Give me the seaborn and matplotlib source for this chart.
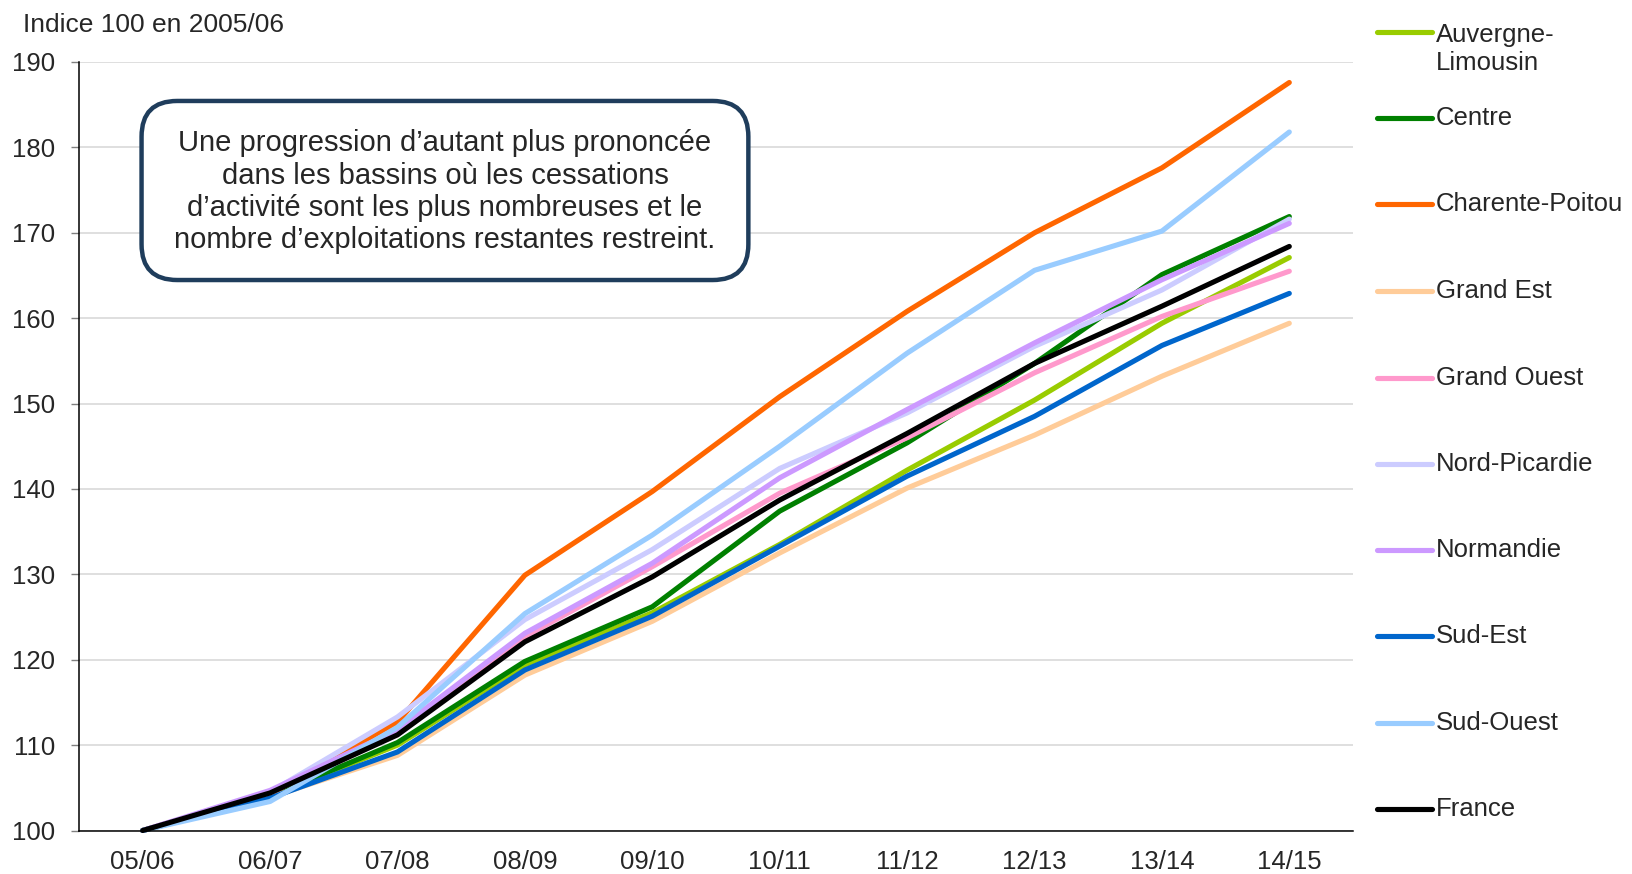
import pandas as pd
import matplotlib
matplotlib.use("Agg")
import matplotlib.pyplot as plt
from matplotlib.lines import Line2D
from matplotlib.patches import FancyBboxPatch
from matplotlib.ticker import FixedLocator
import seaborn as sns

# data
periods = ["05/06", "06/07", "07/08", "08/09", "09/10", "10/11", "11/12", "12/13", "13/14", "14/15"]
regions = ["Auvergne-Limousin", "Centre", "Charente-Poitou", "Grand Est", "Grand Ouest",
           "Nord-Picardie", "Normandie", "Sud-Est", "Sud-Ouest", "France"]
legend_labels = ["Auvergne-\nLimousin", "Centre", "Charente-Poitou", "Grand Est", "Grand Ouest",
                 "Nord-Picardie", "Normandie", "Sud-Est", "Sud-Ouest", "France"]

auvergne = [100, 104.0, 110.0, 119.4, 125.5, 133.5, 142.2, 150.4, 159.4, 167.1]
centre = [100, 104.0, 110.3, 119.8, 126.2, 137.4, 145.4, 154.7, 165.1, 171.9]
charente = [100, 104.3, 112.7, 129.9, 139.7, 150.8, 160.8, 170.0, 177.6, 187.6]
grand_est = [100, 103.9, 108.8, 118.2, 124.5, 132.5, 140.1, 146.3, 153.2, 159.4]
grand_ouest = [100, 104.4, 111.4, 122.7, 130.9, 139.5, 146.0, 153.6, 160.2, 165.5]
nord_picardie = [100, 104.5, 113.3, 124.7, 132.9, 142.4, 148.9, 156.7, 163.3, 171.6]
normandie = [100, 104.7, 111.8, 123.1, 131.3, 141.3, 149.3, 157.1, 164.5, 171.1]
sud_est = [100, 103.8, 109.2, 118.8, 125.1, 133.3, 141.5, 148.5, 156.8, 162.9]
sud_ouest = [100, 103.4, 112.1, 125.4, 134.6, 145.0, 155.9, 165.6, 170.2, 181.8]
france = [100, 104.4, 111.2, 122.1, 129.7, 138.7, 146.5, 154.7, 161.4, 168.4]

colors = ["#99CC00", "#008000", "#FF6600", "#FFCC99", "#FF99CC",
          "#CCCCFF", "#CC99FF", "#0066CC", "#99CCFF", "#000000"]

series = [auvergne, centre, charente, grand_est, grand_ouest,
          nord_picardie, normandie, sud_est, sud_ouest, france]
rows = []
for reg, vals in zip(regions, series):
    for i, v in enumerate(vals):
        rows.append({"pos": i, "region": reg, "value": v})
df = pd.DataFrame(rows)

sns.set_style("white")
plt.rcParams["font.family"] = ["Liberation Sans", "DejaVu Sans"]

fig = plt.figure(figsize=(16.32, 8.74), dpi=100)
ax = fig.add_axes([79 / 1632, 1 - 830.5 / 874, (1353 - 79) / 1632, (830.5 - 62) / 874])

palette = dict(zip(regions, colors))
sns.lineplot(data=df, x="pos", y="value", hue="region", hue_order=regions,
             palette=palette, linewidth=3.7, legend=False, ax=ax, sort=False)
for ln in ax.get_lines():
    ln.set_solid_capstyle("round")
    ln.set_solid_joinstyle("round")
    ln.set_clip_on(False)

ax.set_xlim(-0.5, 9.5)
ax.set_ylim(100, 190)
ax.set_yticks(range(100, 191, 10))
ax.set_xticks(range(len(periods)))
ax.set_xticklabels(periods)
ax.xaxis.set_minor_locator(FixedLocator([i + 0.5 for i in range(-1, len(periods))]))
ax.tick_params(axis="x", which="major", length=0, pad=14, labelsize=18.5)
ax.tick_params(axis="x", which="minor", length=6, width=1, color="#808080", direction="out")
ax.tick_params(axis="y", length=6, width=1, color="#808080", pad=11, labelsize=18.5, left=True)
ax.set_xlabel("")
ax.set_ylabel("")
ax.grid(axis="y", color="#d9d9d9", linewidth=1.2)
ax.set_axisbelow(True)
for side in ["top", "right"]:
    ax.spines[side].set_visible(False)
for side in ["left", "bottom"]:
    ax.spines[side].set_color("black")
    ax.spines[side].set_linewidth(1.1)

fig.text(23 / 1632, 1 - 25 / 874, "Indice 100 en 2005/06", fontsize=19, ha="left", va="center")

# annotation box
box = FancyBboxPatch((0.0491, 0.7163), 0.4763, 0.233,
                     boxstyle="round,pad=0,rounding_size=0.028",
                     transform=ax.transAxes, facecolor="white", edgecolor="#1F3D5C",
                     linewidth=3.2, mutation_aspect=1274 / 768.5, zorder=5)
ax.add_patch(box)
ax.text(0.2873, 0.831,
        "Une progression d\u2019autant plus prononc\u00e9e\n"
        "dans les bassins o\u00f9 les cessations\n"
        "d\u2019activit\u00e9 sont les plus nombreuses et le\n"
        "nombre d\u2019exploitations restantes restreint.",
        transform=ax.transAxes, ha="center", va="center", fontsize=21,
        linespacing=1.2, zorder=6)

# legend on the right, one slot per series
slot_y = [31.8, 118, 204, 291, 378, 463.5, 550, 636, 723, 809]
for lab, col, y in zip(legend_labels, colors, slot_y):
    yf = 1 - y / 874
    fig.add_artist(Line2D([1377 / 1632, 1432 / 1632], [yf, yf], color=col, linewidth=3.7,
                          transform=fig.transFigure))
    if "\n" in lab:
        fig.text(1436 / 1632, 1 - (y - 9) / 874, lab, fontsize=18.5, ha="left", va="top",
                 linespacing=1.2)
    else:
        fig.text(1436 / 1632, yf, lab, fontsize=18.5, ha="left", va="center")

fig.savefig("out.png", dpi=100)
